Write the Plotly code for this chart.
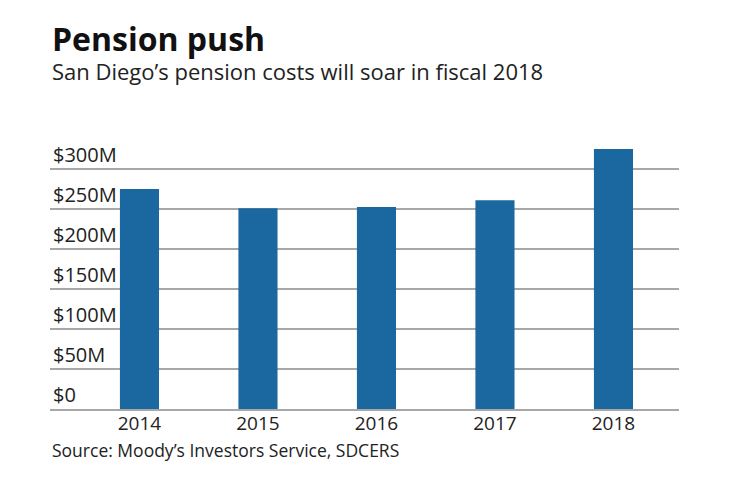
import plotly.graph_objects as go

years = ["2014", "2015", "2016", "2017", "2018"]
costs_m = [275, 251, 252.5, 261, 325]
tick_vals = [0, 50, 100, 150, 200, 250, 300]
tick_text = ["$0", "$50M", "$100M", "$150M", "$200M", "$250M", "$300M"]

title = "Pension push"
subtitle = "San Diego\u2019s pension costs will soar in fiscal 2018"
source = "Source: Moody\u2019s Investors Service, SDCERS"

bar_color = "#1b67a0"
grid_color = "#a8a8a8"
font_family = "'Open Sans', Lato, sans-serif"

# plot area in page pixels (page body has an 8px default margin)
PLOT_TOP, PLOT_BOTTOM = 133, 409
PLOT_H = PLOT_BOTTOM - PLOT_TOP


def py(page_y):
    return (PLOT_BOTTOM - page_y) / PLOT_H


fig = go.Figure(
    go.Bar(x=years, y=costs_m, marker=dict(color=bar_color, line=dict(width=0)), width=0.33)
)

fig.update_layout(
    width=732,
    height=474,
    margin=dict(l=42, r=61, t=125, b=73),
    paper_bgcolor="white",
    plot_bgcolor="white",
    showlegend=False,
    font=dict(family=font_family, color="#222222"),
    xaxis=dict(
        type="category",
        range=[-0.755, 4.553],
        showline=True,
        linecolor=grid_color,
        linewidth=1.5,
        ticks="",
        showgrid=False,
        tickfont=dict(size=19, color="#222222"),
        ticklabelstandoff=-4,
    ),
    yaxis=dict(
        range=[0, 345],
        tickvals=tick_vals,
        ticktext=tick_text,
        ticklabelposition="inside top",
        tickfont=dict(size=20, color="#222222"),
        showgrid=True,
        gridcolor=grid_color,
        gridwidth=1.5,
        zeroline=False,
        showline=False,
        ticks="",
        ticklabelstandoff=0,
    ),
    annotations=[
        dict(text="<b>" + title + "</b>", x=0, y=py(38), xref="paper", yref="paper",
             xanchor="left", yanchor="middle", showarrow=False,
             font=dict(size=32, color="#111111", family=font_family)),
        dict(text=subtitle, x=0, y=py(70.5), xref="paper", yref="paper",
             xanchor="left", yanchor="middle", showarrow=False,
             font=dict(size=22, color="#222222", family=font_family)),
        dict(text=source, x=0, y=py(450), xref="paper", yref="paper",
             xanchor="left", yanchor="middle", showarrow=False,
             font=dict(size=17.5, color="#222222", family=font_family)),
    ],
)

fig.write_html("out.html")
